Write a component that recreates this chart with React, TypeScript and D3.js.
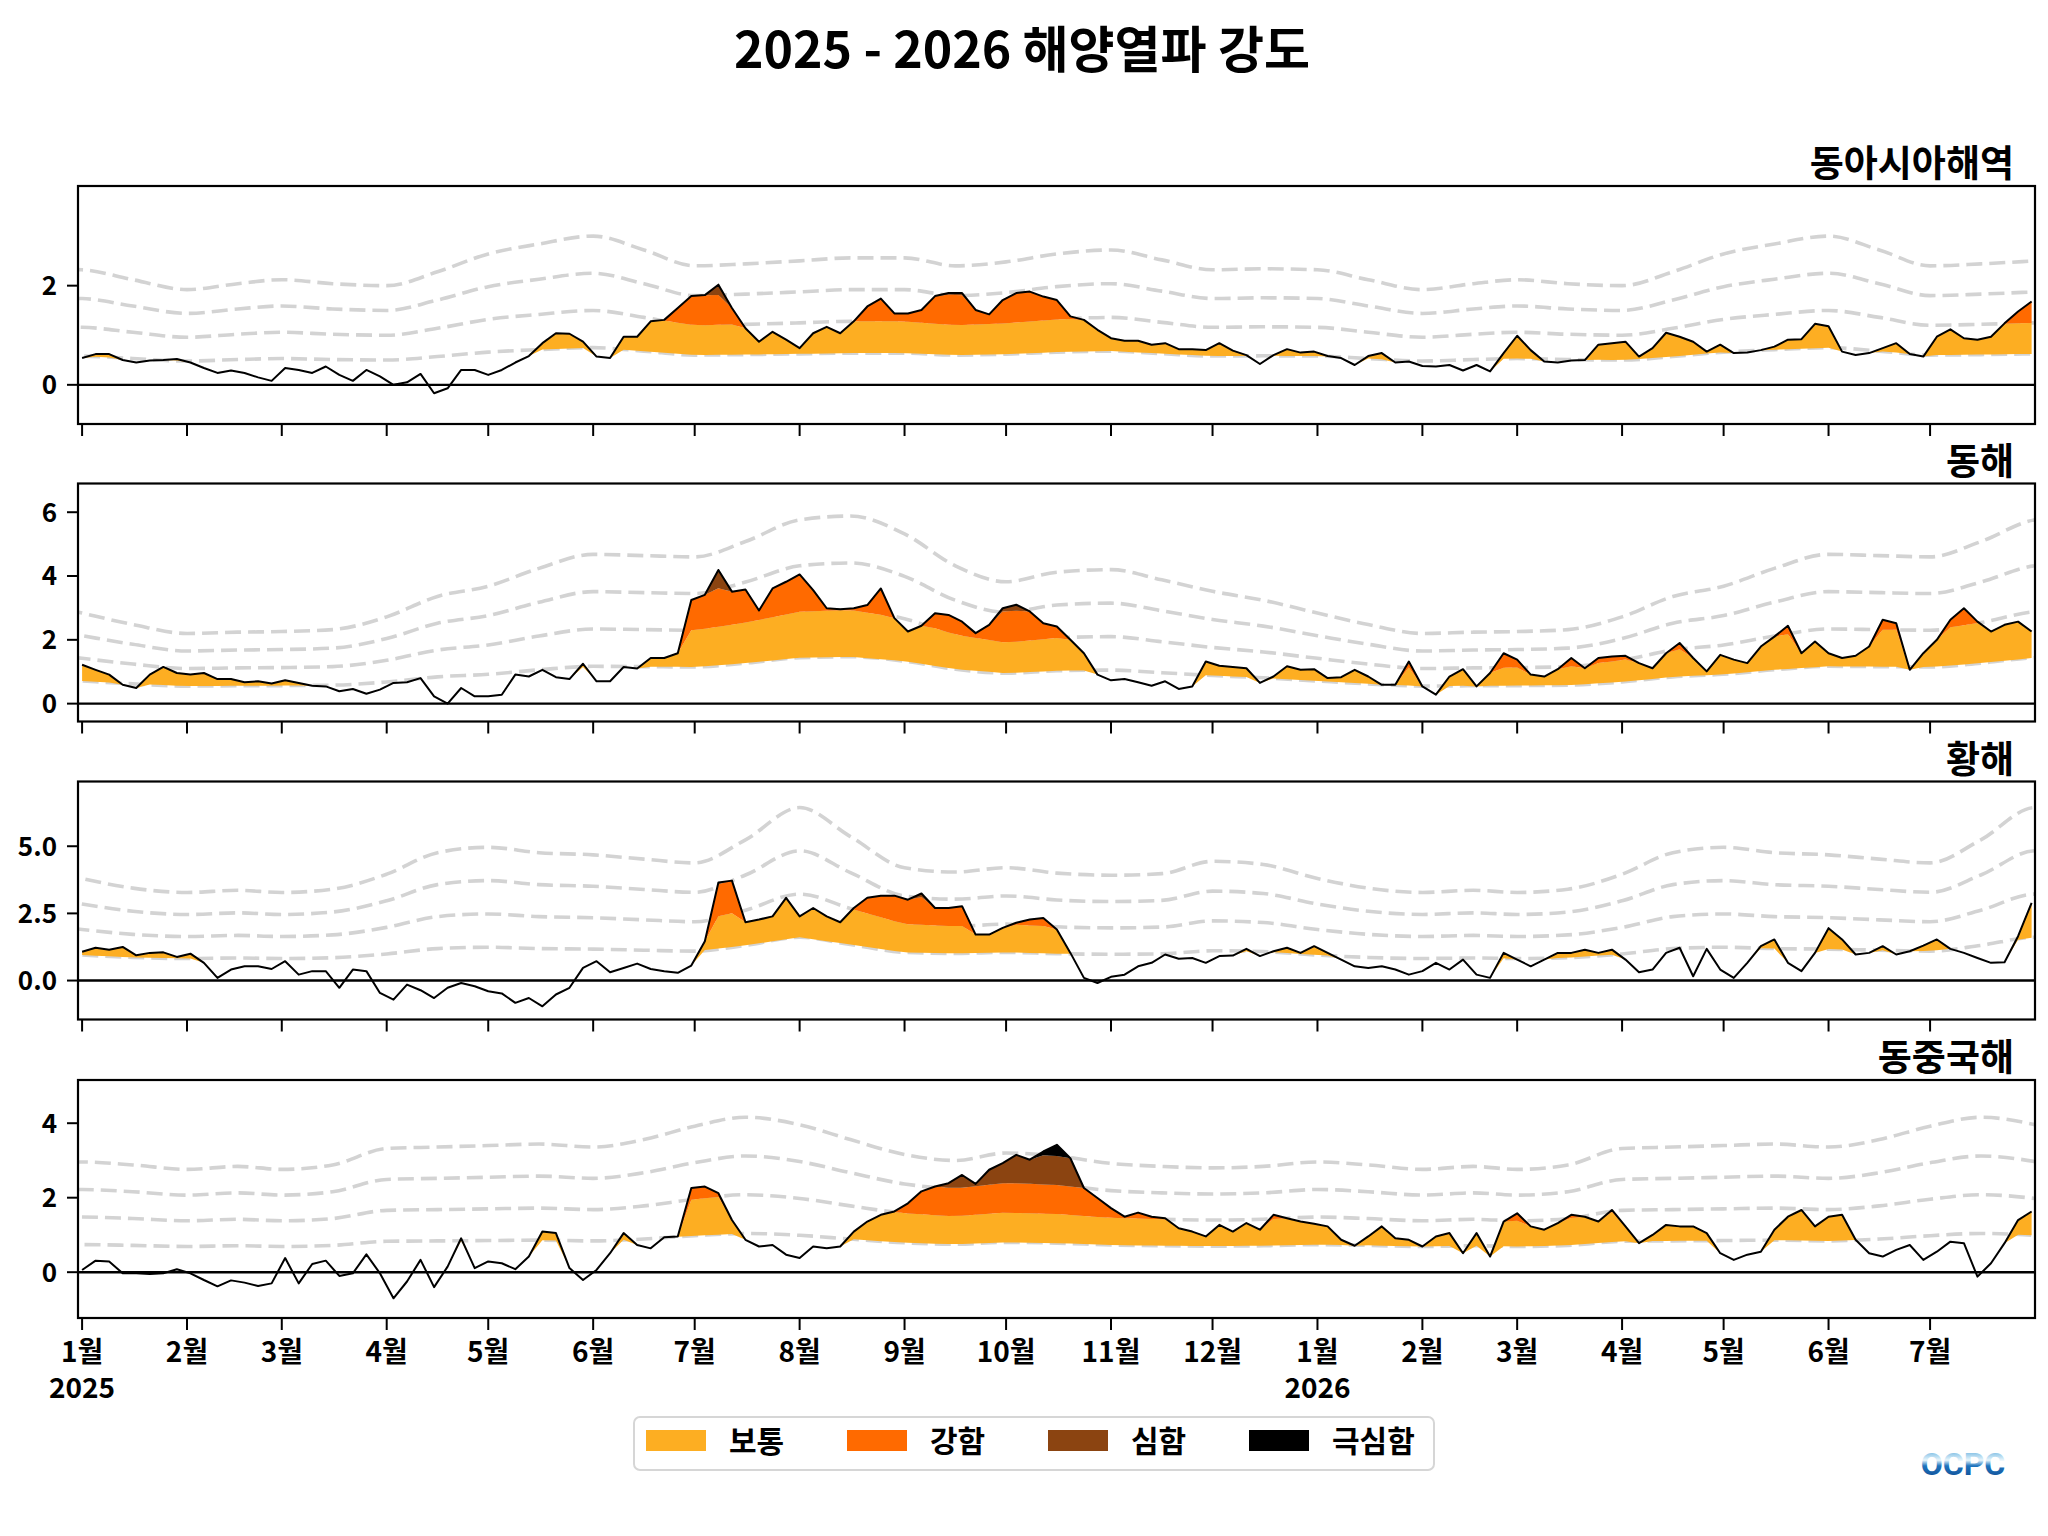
import React from "react";
import * as d3 from "d3";

// ---- data -----------------------------------------------------------------
// daily SST anomaly (°C) sampled every 4 days from 2025-01-01 to 2026-07-31
const startDate = new Date(2025, 0, 1);
const stepDays = 4;

const eastAsiaSeaAnom = [
  0.54, 0.62, 0.62, 0.50, 0.45, 0.49, 0.50, 0.52, 0.45, 0.34,
  0.24, 0.29, 0.24, 0.15, 0.08, 0.34, 0.30, 0.24, 0.37, 0.20,
  0.08, 0.30, 0.17, 0.00, 0.05, 0.22, -0.17, -0.07, 0.30, 0.30,
  0.20, 0.30, 0.45, 0.58, 0.84, 1.04, 1.03, 0.87, 0.57, 0.54,
  0.97, 0.97, 1.28, 1.31, 1.55, 1.79, 1.81, 2.02, 1.55, 1.14,
  0.87, 1.07, 0.91, 0.74, 1.04, 1.17, 1.04, 1.28, 1.58, 1.74,
  1.44, 1.44, 1.51, 1.79, 1.85, 1.85, 1.51, 1.42, 1.71, 1.85,
  1.88, 1.78, 1.71, 1.38, 1.31, 1.11, 0.94, 0.89, 0.89, 0.81,
  0.84, 0.72, 0.72, 0.70, 0.84, 0.69, 0.60, 0.42, 0.60, 0.72,
  0.65, 0.67, 0.58, 0.54, 0.40, 0.58, 0.64, 0.45, 0.47, 0.38,
  0.37, 0.40, 0.29, 0.40, 0.27, 0.64, 0.99, 0.70, 0.47, 0.45,
  0.49, 0.50, 0.81, 0.84, 0.87, 0.57, 0.74, 1.05, 0.97, 0.87,
  0.67, 0.81, 0.64, 0.65, 0.70, 0.77, 0.91, 0.92, 1.23, 1.18,
  0.67, 0.60, 0.64, 0.74, 0.84, 0.62, 0.57, 0.97, 1.12, 0.94,
  0.91, 0.97, 1.24, 1.48, 1.68,
];

const eastSeaAnom = [
  1.22, 1.06, 0.91, 0.59, 0.49, 0.91, 1.15, 0.96, 0.91, 0.96,
  0.77, 0.77, 0.67, 0.70, 0.63, 0.73, 0.65, 0.56, 0.54, 0.39,
  0.46, 0.31, 0.44, 0.65, 0.67, 0.80, 0.23, 0.00, 0.49, 0.23,
  0.23, 0.28, 0.91, 0.85, 1.06, 0.83, 0.77, 1.25, 0.70, 0.70,
  1.15, 1.10, 1.43, 1.43, 1.58, 3.25, 3.41, 4.19, 3.51, 3.58,
  2.92, 3.61, 3.82, 4.05, 3.56, 2.99, 2.96, 2.99, 3.09, 3.61,
  2.68, 2.26, 2.44, 2.83, 2.78, 2.57, 2.21, 2.47, 2.99, 3.10,
  2.89, 2.52, 2.42, 2.00, 1.58, 0.91, 0.73, 0.77, 0.67, 0.56,
  0.70, 0.46, 0.54, 1.32, 1.19, 1.15, 1.11, 0.65, 0.85, 1.17,
  1.06, 1.08, 0.80, 0.83, 1.06, 0.85, 0.59, 0.59, 1.32, 0.54,
  0.28, 0.85, 1.08, 0.54, 0.96, 1.58, 1.38, 0.91, 0.85, 1.08,
  1.43, 1.11, 1.43, 1.48, 1.50, 1.27, 1.11, 1.58, 1.90, 1.43,
  1.01, 1.53, 1.38, 1.27, 1.79, 2.10, 2.44, 1.58, 1.95, 1.58,
  1.43, 1.50, 1.79, 2.63, 2.52, 1.06, 1.58, 2.00, 2.63, 2.99,
  2.57, 2.26, 2.47, 2.57, 2.26,
];

const yellowSeaAnom = [
  1.07, 1.22, 1.15, 1.25, 0.94, 1.03, 1.05, 0.88, 1.00, 0.66,
  0.10, 0.41, 0.53, 0.53, 0.43, 0.72, 0.22, 0.35, 0.35, -0.27,
  0.41, 0.35, -0.46, -0.71, -0.15, -0.36, -0.65, -0.27, -0.09, -0.21,
  -0.40, -0.48, -0.83, -0.65, -0.96, -0.52, -0.27, 0.47, 0.72, 0.31,
  0.47, 0.63, 0.43, 0.35, 0.29, 0.56, 1.46, 3.65, 3.72, 2.17,
  2.27, 2.39, 3.08, 2.39, 2.70, 2.39, 2.17, 2.70, 3.08, 3.16,
  3.16, 3.01, 3.24, 2.70, 2.70, 2.77, 1.71, 1.71, 1.96, 2.15,
  2.27, 2.33, 1.90, 1.03, 0.10, -0.09, 0.14, 0.22, 0.53, 0.66,
  0.97, 0.81, 0.84, 0.66, 0.91, 0.93, 1.18, 0.91, 1.09, 1.22,
  1.03, 1.28, 1.03, 0.78, 0.53, 0.47, 0.53, 0.41, 0.22, 0.35,
  0.66, 0.41, 0.78, 0.22, 0.10, 1.03, 0.78, 0.53, 0.78, 1.03,
  1.03, 1.15, 1.03, 1.15, 0.78, 0.31, 0.41, 1.03, 1.22, 0.16,
  1.18, 0.41, 0.10, 0.66, 1.28, 1.53, 0.66, 0.35, 1.03, 1.95,
  1.53, 0.97, 1.03, 1.28, 0.97, 1.09, 1.30, 1.53, 1.18, 1.03,
  0.84, 0.66, 0.68, 1.65, 2.89,
];

const eastChinaSeaAnom = [
  0.06, 0.31, 0.29, -0.03, -0.03, -0.05, -0.03, 0.08, -0.03, -0.21,
  -0.38, -0.22, -0.28, -0.37, -0.30, 0.38, -0.30, 0.22, 0.31, -0.10,
  -0.03, 0.48, -0.03, -0.70, -0.25, 0.33, -0.40, 0.15, 0.91, 0.11,
  0.29, 0.24, 0.08, 0.42, 1.09, 1.05, 0.11, -0.21, 0.06, 0.51,
  1.05, 0.73, 0.64, 0.94, 0.96, 2.26, 2.30, 2.12, 1.40, 0.87,
  0.69, 0.73, 0.47, 0.38, 0.69, 0.64, 0.69, 1.09, 1.36, 1.54,
  1.63, 1.85, 2.17, 2.30, 2.39, 2.61, 2.37, 2.75, 2.93, 3.15,
  3.02, 3.24, 3.42, 3.06, 2.26, 1.99, 1.72, 1.49, 1.60, 1.49,
  1.45, 1.18, 1.09, 0.96, 1.27, 1.09, 1.32, 1.14, 1.54, 1.45,
  1.36, 1.30, 1.23, 0.87, 0.71, 0.96, 1.23, 0.91, 0.87, 0.69,
  0.96, 1.05, 0.51, 1.05, 0.42, 1.36, 1.58, 1.23, 1.14, 1.32,
  1.54, 1.49, 1.36, 1.67, 1.23, 0.78, 1.00, 1.27, 1.23, 1.23,
  1.05, 0.51, 0.33, 0.47, 0.55, 1.14, 1.49, 1.67, 1.23, 1.49,
  1.54, 0.87, 0.51, 0.42, 0.60, 0.73, 0.33, 0.55, 0.82, 0.78,
  -0.12, 0.24, 0.78, 1.40, 1.63,
];

// climatological threshold minus climatology (°C), on the 1st and 16th of each month
const eastAsiaSeaThr = [0.58, 0.53, 0.48, 0.51, 0.53, 0.51, 0.50, 0.57, 0.66, 0.71, 0.75, 0.68,
  0.60, 0.61, 0.625, 0.64, 0.64, 0.60, 0.62, 0.66, 0.68, 0.63, 0.58, 0.585];
const eastSeaThr = [0.71, 0.62, 0.55, 0.56, 0.565, 0.58, 0.68, 0.84, 0.92, 1.06, 1.17, 1.16,
  1.15, 1.27, 1.44, 1.47, 1.33, 1.08, 0.955, 1.03, 1.05, 0.97, 0.88, 0.81];
const yellowSeaThr = [0.95, 0.86, 0.82, 0.84, 0.82, 0.85, 0.99, 1.19, 1.24, 1.19, 1.17, 1.13,
  1.095, 1.31, 1.61, 1.34, 1.05, 1.01, 1.05, 1.0, 0.98, 0.995, 1.11, 1.08];
const eastChinaSeaThr = [0.74, 0.72, 0.69, 0.71, 0.69, 0.72, 0.83, 0.84, 0.85, 0.86, 0.84, 0.89,
  0.98, 1.04, 0.99, 0.89, 0.79, 0.75, 0.80, 0.78, 0.73, 0.71, 0.70, 0.71];

const regionNames = ["동아시아해역", "동해", "황해", "동중국해"];
const categoryNames = ["보통", "강함", "심함", "극심함"];
const categoryColors = ["#FDAE22", "#FF6A00", "#8B4411", "#000000"];

const yDomains = [[-0.79, 4.01], [-0.56, 6.9], [-1.45, 7.41], [-1.23, 5.16]];
const yTickValues = [[0, 2], [0, 2, 4, 6], [0, 2.5, 5], [0, 2, 4]];
const yTickFormats = ["d", "d", ".1f", "d"];

// ---- layout ---------------------------------------------------------------
const W = 2048;
const H = 1536;
const left = 78;
const right = 2035;
const panelTops = [186, 483.5, 781.5, 1080];
const panelH = 238;
const FONT = "'Noto Sans CJK KR', 'Noto Sans', sans-serif";

// threshold knots repeated for every year the axis touches
function thresholdKnots(thr: number[]) {
  const knots: { d: Date; t: number }[] = [];
  for (const yr of [2024, 2025, 2026]) {
    for (let m = 0; m < 12; m++) {
      knots.push({ d: new Date(yr, m, 1), t: thr[m * 2] });
      knots.push({ d: new Date(yr, m, 16), t: thr[m * 2 + 1] });
    }
  }
  return knots;
}

const series = [eastAsiaSeaAnom, eastSeaAnom, yellowSeaAnom, eastChinaSeaAnom];
const thresholds = [eastAsiaSeaThr, eastSeaThr, yellowSeaThr, eastChinaSeaThr];

function Panel({ idx, x, dates }: { idx: number; x: d3.ScaleTime<number, number>; dates: Date[] }) {
  const top = panelTops[idx];
  const bottom = top + panelH;
  const y = d3.scaleLinear().domain(yDomains[idx]).range([bottom, top]);
  const knots = thresholdKnots(thresholds[idx]);
  const ts = d3.scaleLinear<number>().domain(knots.map((k) => +k.d)).range(knots.map((k) => k.t));
  const anom = series[idx];
  const rows = dates.map((d, i) => ({ d, a: anom[i], t: ts(+d) }));
  const clipId = `clip${idx}`;

  const dashed = [1, 2, 3, 4].map((k) =>
    d3.line<any>().curve(d3.curveMonotoneX).x((r) => x(r.d)).y((r) => y(k * r.t))(knots)
  );
  const fills = [1, 2, 3, 4].map((k) =>
    d3
      .area<any>()
      .x((r) => x(r.d))
      .y0((r) => y(Math.min(r.a, k * r.t)))
      .y1((r) => y(k === 4 ? r.a : Math.min(r.a, (k + 1) * r.t)))(rows)
  );
  const line = d3.line<any>().x((r) => x(r.d)).y((r) => y(r.a))(rows);
  const fmt = d3.format(yTickFormats[idx]);
  const months = d3.timeMonth.range(new Date(2025, 0, 1), new Date(2026, 7, 1));
  const isLast = idx === panelTops.length - 1;

  return (
    <g>
      <defs>
        <clipPath id={clipId}>
          <rect x={left} y={top} width={right - left} height={panelH} />
        </clipPath>
      </defs>
      <g clipPath={`url(#${clipId})`}>
        {dashed.map((p, k) => (
          <path key={k} d={p!} fill="none" stroke="#D3D3D3" strokeWidth={3.6} strokeDasharray="16,7" />
        ))}
        {fills.map((p, k) => (
          <path key={k} d={p!} fill={categoryColors[k]} stroke="none" />
        ))}
        <line x1={left} x2={right} y1={y(0)} y2={y(0)} stroke="#000" strokeWidth={2.4} />
        <path d={line!} fill="none" stroke="#000" strokeWidth={2} strokeLinejoin="round" />
      </g>
      <rect x={left} y={top} width={right - left} height={panelH} fill="none" stroke="#000" strokeWidth={2.2} />
      {yTickValues[idx].map((v) => (
        <g key={v}>
          <line x1={left - 11} x2={left} y1={y(v)} y2={y(v)} stroke="#000" strokeWidth={2} />
          <text x={left - 21} y={y(v)} dy="0.36em" textAnchor="end" fontFamily={FONT} fontWeight={700} fontSize={26}>
            {fmt(v)}
          </text>
        </g>
      ))}
      {months.map((m) => (
        <g key={+m}>
          <line x1={x(m)} x2={x(m)} y1={bottom} y2={bottom + 12} stroke="#000" strokeWidth={2} />
          {isLast && (
            <text x={x(m)} y={bottom + 44} textAnchor="middle" fontFamily={FONT} fontWeight={700} fontSize={28}>
              {`${m.getMonth() + 1}월`}
            </text>
          )}
          {isLast && m.getMonth() === 0 && (
            <text x={x(m)} y={bottom + 80} textAnchor="middle" fontFamily={FONT} fontWeight={700} fontSize={28}>
              {m.getFullYear()}
            </text>
          )}
        </g>
      ))}
      <text x={2014} y={top - 9} textAnchor="end" fontFamily={FONT} fontWeight={700} fontSize={37}>
        {regionNames[idx]}
      </text>
    </g>
  );
}

export default function App() {
  const x = d3
    .scaleTime()
    .domain([new Date(2024, 11, 30, 19), new Date(2026, 7, 1)])
    .range([left, right]);
  const dates = eastAsiaSeaAnom.map((_, i) => d3.timeDay.offset(startDate, i * stepDays));

  return (
    <svg width={W} height={H} viewBox={`0 0 ${W} ${H}`} style={{ display: "block", background: "#fff" }}>
      <style>{`body{margin:0}`}</style>
      <defs>
        <linearGradient id="ocpcGrad" x1="0" y1="0" x2="0" y2="1">
          <stop offset="0%" stopColor="#2a8fd0" />
          <stop offset="40%" stopColor="#e8f6fc" />
          <stop offset="55%" stopColor="#1f74bd" />
          <stop offset="100%" stopColor="#0b3f86" />
        </linearGradient>
      </defs>
      <rect width={W} height={H} fill="#fff" />
      <text x={1022} y={68} textAnchor="middle" fontFamily={FONT} fontWeight={700} fontSize={50}>
        2025 - 2026 해양열파 강도
      </text>
      {panelTops.map((_, i) => (
        <Panel key={i} idx={i} x={x} dates={dates} />
      ))}
      <g>
        <rect x={634} y={1417} width={800} height={53} rx={6} fill="#fff" stroke="#D6D6D6" strokeWidth={2} />
        {categoryNames.map((name, i) => (
          <g key={name} transform={`translate(${646 + i * 201},0)`}>
            <rect x={0} y={1430} width={60} height={21} fill={categoryColors[i]} />
            <text x={83} y={1452} fontFamily={FONT} fontWeight={700} fontSize={30}>
              {name}
            </text>
          </g>
        ))}
      </g>
      <text x={1963} y={1475} textAnchor="middle" fontFamily="'Liberation Sans Narrow', 'Roboto', sans-serif" fontWeight={700} fontSize={32} fill="url(#ocpcGrad)">
        OCPC
      </text>
    </svg>
  );
}
